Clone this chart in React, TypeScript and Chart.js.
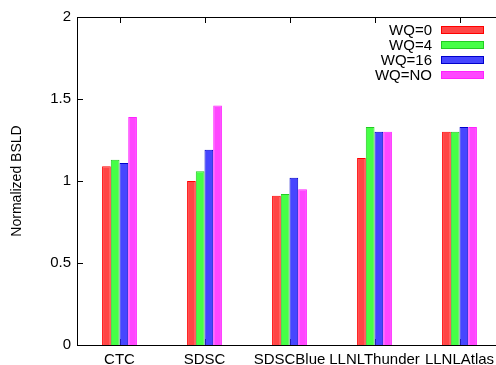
import React, { useEffect, useRef } from "react";
import { Chart, registerables } from "chart.js";

Chart.register(...registerables);

const categories = ["CTC", "SDSC", "SDSCBlue", "LLNLThunder", "LLNLAtlas"];
const seriesLabels = ["WQ=0", "WQ=4", "WQ=16", "WQ=NO"];
const wq0 = [1.09, 1.0, 0.91, 1.14, 1.3];
const wq4 = [1.13, 1.06, 0.92, 1.33, 1.3];
const wq16 = [1.11, 1.19, 1.02, 1.3, 1.33];
const wqNO = [1.39, 1.46, 0.95, 1.3, 1.33];
const yTicks = [0, 0.5, 1, 1.5, 2];

const fills = ["#ff4646", "#46ff46", "#4646ff", "#ff46ff"];
const borders = ["#ff0000", "#22cc22", "#0000cc", "#ff22ff"];
const FONT = "'Liberation Sans', Arial, sans-serif";

const framePlugin = {
  id: "gnuFrame",
  beforeDatasetsDraw(chart: any) {
    const { ctx, chartArea } = chart;
    const { left, right, top, bottom } = chartArea;
    const x = chart.scales.x;
    const y = chart.scales.y;
    ctx.save();
    ctx.strokeStyle = "#000";
    ctx.lineWidth = 1;
    ctx.beginPath();
    yTicks.forEach((v) => {
      const py = Math.round(y.getPixelForValue(v)) + 0.5;
      ctx.moveTo(left, py);
      ctx.lineTo(left + 6, py);
      ctx.moveTo(right, py);
      ctx.lineTo(right - 6, py);
    });
    categories.forEach((_, i) => {
      const px = Math.round(x.getPixelForValue(i)) + 0.5;
      ctx.moveTo(px, top);
      ctx.lineTo(px, top + 6);
      ctx.moveTo(px, bottom);
      ctx.lineTo(px, bottom - 6);
    });
    ctx.stroke();
    ctx.restore();
  },
  afterDatasetsDraw(chart: any) {
    const { ctx, chartArea } = chart;
    const { left, right, top, bottom } = chartArea;
    ctx.save();
    ctx.strokeStyle = "#000";
    ctx.lineWidth = 1;
    ctx.strokeRect(Math.round(left) + 0.5, Math.round(top) + 0.5, Math.round(right - left), Math.round(bottom - top));
    // legend
    ctx.font = `15px ${FONT}`;
    ctx.textAlign = "right";
    ctx.textBaseline = "middle";
    chart.data.datasets.forEach((ds: any, i: number) => {
      const cy = 30 + 15 * i;
      ctx.fillStyle = "#000";
      ctx.fillText(ds.label, 432, cy + 1);
      ctx.fillStyle = ds.backgroundColor;
      ctx.fillRect(441, cy - 4, 43, 8);
      ctx.strokeStyle = ds.borderColor;
      ctx.strokeRect(441.5, cy - 3.5, 42, 7);
    });
    ctx.restore();
  },
};

export default function App() {
  const ref = useRef<HTMLCanvasElement>(null);
  useEffect(() => {
    if (!ref.current) return;
    const series = [wq0, wq4, wq16, wqNO];
    const chart = new Chart(ref.current, {
      type: "bar",
      data: {
        labels: categories,
        datasets: series.map((d, i) => ({
          label: seriesLabels[i],
          data: d,
          backgroundColor: fills[i],
          borderColor: borders[i],
          borderWidth: 1,
          categoryPercentage: 0.41,
          barPercentage: 1,
        })),
      },
      options: {
        responsive: false,
        animation: false,
        layout: { padding: { top: 17, right: 4, left: 0, bottom: 0 } },
        plugins: { legend: { display: false }, tooltip: { enabled: false } },
        scales: {
          x: {
            grid: { display: false, drawTicks: false },
            border: { display: false },
            ticks: { color: "#000", font: { family: FONT, size: 15 }, padding: 6, maxRotation: 0, autoSkip: false },
            afterFit: (s: any) => {
              s.height = 20;
            },
          },
          y: {
            min: 0,
            max: 2,
            grid: { display: false, drawTicks: false },
            border: { display: false },
            ticks: {
              stepSize: 0.5,
              color: "#000",
              font: { family: FONT, size: 15 },
              padding: 6,
              callback: (v: any) => String(v),
            },
            title: {
              display: true,
              text: "Normalized BSLD",
              color: "#000",
              font: { family: FONT, size: 14 },
              padding: { top: 9, bottom: 0 },
            },
            afterFit: (s: any) => {
              s.width = 77;
            },
          },
        },
      },
      plugins: [framePlugin],
    });
    return () => chart.destroy();
  }, []);
  return (
    <div style={{ position: "fixed", left: 0, top: 0, width: 496, height: 365, overflow: "hidden", background: "#fff" }}>
      <canvas ref={ref} width={506} height={365} style={{ display: "block", width: 506, height: 365 }} />
    </div>
  );
}
